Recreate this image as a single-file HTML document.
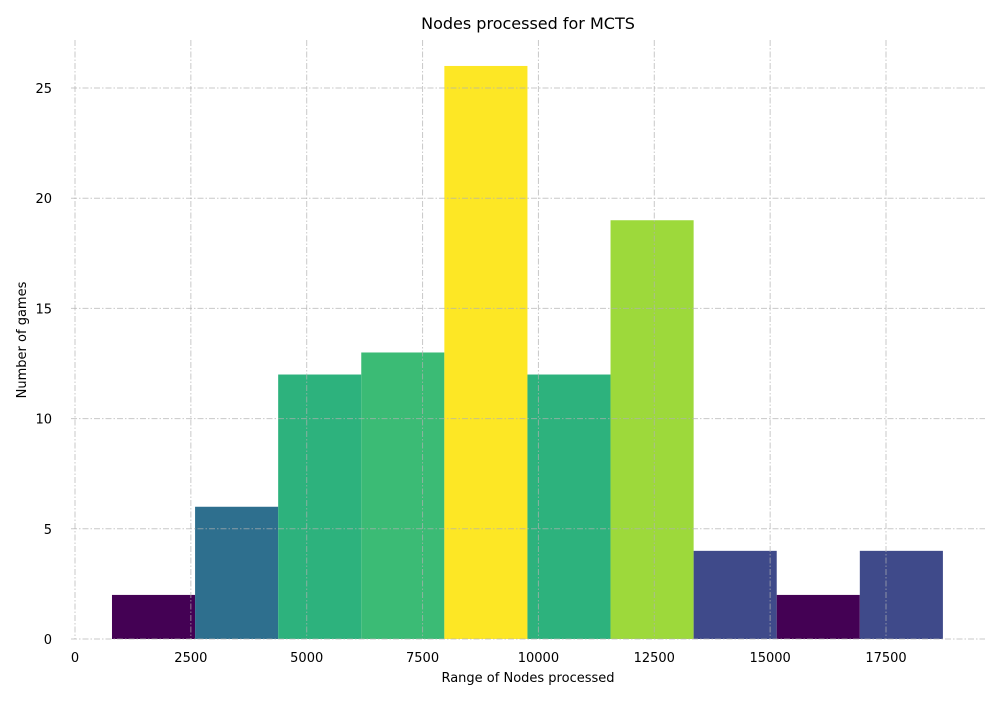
<!DOCTYPE html>
<html><head><meta charset="utf-8"><style>
body{margin:0;background:#fff;font-family:"DejaVu Sans","Liberation Sans",sans-serif;}
svg text{font-family:"DejaVu Sans","Liberation Sans",sans-serif;fill:#000;}
</style></head><body>
<svg id="chart" width="1000" height="700" xmlns="http://www.w3.org/2000/svg">
<text x="528" y="29" font-size="16" text-anchor="middle">Nodes processed for MCTS</text>
<text x="528" y="682" font-size="13" text-anchor="middle">Range of Nodes processed</text>
<text x="26" y="340" font-size="13" text-anchor="middle" transform="rotate(-90 26 340)">Number of games</text>
<g id="bars"></g><g id="grid"></g><g id="ticks"></g>
</svg>
<script>
const binStart = 798;
const binWidth = 1793;
const counts = [2, 6, 12, 13, 26, 12, 19, 4, 2, 4];
const barColors = ['#440154','#2e6f8e','#2db27d','#3bbb75','#fde725','#2db27d','#9dd93b','#3f4a8a','#440154','#3f4a8a'];
const xTicks = [0, 2500, 5000, 7500, 10000, 12500, 15000, 17500];
const yTicks = [0, 5, 10, 15, 20, 25];
const NS = 'http://www.w3.org/2000/svg';
const xs = v => 75 + v * (811 / 17500);
const ys = v => 639 - v * (551 / 25);
function mk(tag, attrs, parent){const e=document.createElementNS(NS,tag);for(const k in attrs)e.setAttribute(k,attrs[k]);parent.appendChild(e);return e;}
const bars=document.getElementById('bars'), grid=document.getElementById('grid'), ticks=document.getElementById('ticks');
counts.forEach((c,i)=>{
  const x0=xs(binStart+i*binWidth), x1=xs(binStart+(i+1)*binWidth);
  const r=mk('rect',{x:x0,y:ys(c),width:x1-x0,height:ys(0)-ys(c),fill:barColors[i]},bars);
  
  
});
xTicks.forEach(t=>{
  const l=mk('line',{x1:xs(t),x2:xs(t),y1:40,y2:639,stroke:'#b0b0b0','stroke-opacity':0.7,'stroke-dasharray':'6 2 1.5 2','stroke-width':1},grid);
  
  
  const tx=mk('text',{x:xs(t),y:662,'font-size':13,'text-anchor':'middle'},ticks);
  tx.textContent=t;
  
  
});
yTicks.forEach(t=>{
  const l=mk('line',{x1:71,x2:985,y1:ys(t),y2:ys(t),stroke:'#b0b0b0','stroke-opacity':0.7,'stroke-dasharray':'6 2 1.5 2','stroke-width':1},grid);
  
  
  const tx=mk('text',{x:52,y:ys(t)+5,'font-size':13,'text-anchor':'end'},ticks);
  tx.textContent=t;
  
  
});
</script>
</body></html>
